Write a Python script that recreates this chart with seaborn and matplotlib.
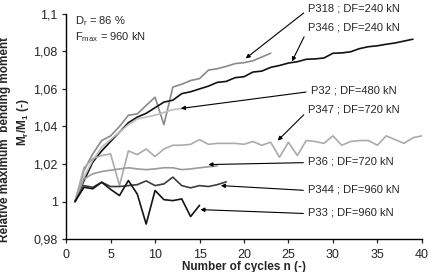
import numpy as np
import pandas as pd
import matplotlib
matplotlib.use("Agg")
import matplotlib.pyplot as plt
import seaborn as sns

# ---- data ----
p318 = [1.0, 1.0165, 1.0254, 1.0325, 1.035, 1.040, 1.046, 1.0467, 1.0512, 1.0556, 1.041,
        1.061, 1.0625, 1.0645, 1.0655, 1.070, 1.0708, 1.072, 1.0735, 1.074, 1.075, 1.077, 1.079]
p346 = [1.0, 1.011, 1.021, 1.027, 1.032, 1.037, 1.042, 1.045, 1.047, 1.050, 1.053, 1.054,
        1.0575, 1.0585, 1.060, 1.0615, 1.0635, 1.064, 1.066, 1.0665, 1.069, 1.0695, 1.0715,
        1.0725, 1.0738, 1.0745, 1.0758, 1.076, 1.0765, 1.079, 1.0792, 1.0798, 1.0815, 1.0825,
        1.083, 1.0838, 1.0845, 1.0855, 1.0865]
p32 = [1.0, 1.013, 1.022, 1.029, 1.033, 1.037, 1.041, 1.044, 1.045, 1.046, 1.0475, 1.049, 1.0495]
p347 = [1.0, 1.018, 1.0228, 1.0245, 1.0254, 1.0085, 1.027, 1.025, 1.028, 1.024, 1.028, 1.030,
        1.030, 1.0305, 1.033, 1.0305, 1.031, 1.031, 1.031, 1.0305, 1.032, 1.030, 1.0316, 1.0236,
        1.0316, 1.0245, 1.0325, 1.032, 1.031, 1.035, 1.030, 1.032, 1.0325, 1.0325, 1.030, 1.035,
        1.033, 1.031, 1.034, 1.035]
p36 = [1.0, 1.012, 1.0148, 1.016, 1.0167, 1.0174, 1.018, 1.0174, 1.017, 1.0174, 1.018, 1.018,
       1.017, 1.0174, 1.018, 1.0185, 1.019]
p344 = [1.0, 1.0085, 1.0076, 1.0103, 1.008, 1.008, 1.0085, 1.009, 1.011, 1.0085, 1.0094,
        1.013, 1.0085, 1.0073, 1.0085, 1.008, 1.009, 1.0105]
p33 = [1.0, 1.0076, 1.0068, 1.0103, 1.0065, 1.0032, 1.0112, 1.004, 0.988, 1.0059, 1.001,
       1.0005, 1.0014, 0.992, 0.998]

series = {"P318": p318, "P346": p346, "P32": p32, "P347": p347,
          "P36": p36, "P344": p344, "P33": p33}
labels = {"P318": "P318 ; DF=240 kN", "P346": "P346 ; DF=240 kN",
          "P32": "P32 ; DF=480 kN", "P347": "P347 ; DF=720 kN",
          "P36": "P36 ; DF=720 kN", "P344": "P344 ; DF=960 kN",
          "P33": "P33 ; DF=960 kN"}
colors = {"P318": "#8a8a8a", "P346": "#111111", "P32": "#bdbdbd", "P347": "#ababab",
          "P36": "#9a9a9a", "P344": "#3c3c3c", "P33": "#151515"}
# label text anchor (n, value) and arrow target (n, value)
text_pos = {"P318": (27.2, 1.1028), "P346": (27.2, 1.0925), "P32": (27.5, 1.0592),
            "P347": (27.2, 1.049), "P36": (27.2, 1.0213), "P344": (27.2, 1.0064),
            "P33": (27.2, 0.9941)}
arrow_to = {"P318": (20.2, 1.0763), "P346": (25.4, 1.0747), "P32": (12.9, 1.0496),
            "P347": (23.8, 1.0325), "P36": (16.0, 1.0197), "P344": (17.4, 1.0085),
            "P33": (15.1, 0.9957)}

x_ticks = [0, 5, 10, 15, 20, 25, 30, 35, 40]
y_ticks = [0.98, 1.0, 1.02, 1.04, 1.06, 1.08, 1.1]
y_ticklabels = ["0,98", "1", "1,02", "1,04", "1,06", "1,08", "1,1"]

rows = []
for k, v in series.items():
    for i, val in enumerate(v):
        rows.append({"n": i + 1, "M": val, "pile": k})
df = pd.DataFrame(rows)

sns.set_style("ticks")
plt.rcParams["font.family"] = ["Liberation Sans", "DejaVu Sans"]
plt.rcParams["mathtext.default"] = "regular"

fig = plt.figure(figsize=(4.38, 2.72), dpi=100)
ax = fig.add_axes([0.151, 0.121, 0.812, 0.828])

sns.lineplot(data=df, x="n", y="M", hue="pile", palette=colors, ax=ax,
             linewidth=1.2, legend=False, sort=False)

ax.set_xlim(0, 40)
ax.set_ylim(0.98, 1.1)
ax.set_xticks(x_ticks)
ax.set_xticklabels([str(t) for t in x_ticks], fontsize=9)
ax.set_yticks(y_ticks)
ax.set_yticklabels(y_ticklabels, fontsize=9)
ax.tick_params(direction="out", length=3, width=0.9)
ax.tick_params(axis="x", pad=4)
ax.tick_params(axis="y", pad=3)
for s in ["top", "right"]:
    ax.spines[s].set_visible(False)
for s in ["left", "bottom"]:
    ax.spines[s].set_linewidth(1.0)
    ax.spines[s].set_color("black")

ax.set_xlabel("Number of cycles n (-)", fontsize=8.5, fontweight="bold", labelpad=0)
ax.set_ylabel("Relative maximum  bending moment", fontsize=8.5, fontweight="bold")
ax.yaxis.set_label_coords(-0.1545, 0.44)
ax.text(-0.121, 0.52, "M$_r$/M$_1$ (-)", transform=ax.transAxes, rotation=90,
        fontsize=8.5, fontweight="bold", ha="center", va="center")

ax.text(1.0, 1.096, "D$_r$ = 86 %", fontsize=8, va="center", ha="left")
ax.text(1.0, 1.0875, "F$_{max}$ = 960 kN", fontsize=8, va="center", ha="left")

for k in series:
    ax.annotate(labels[k], xy=arrow_to[k], xytext=text_pos[k], fontsize=8,
                ha="left", va="center", annotation_clip=False,
                arrowprops=dict(arrowstyle="-|>", color="black", lw=0.8,
                                mutation_scale=6, shrinkA=1, shrinkB=0,
                                relpos=(0, 0.4)))

fig.savefig("out.png", dpi=100)
